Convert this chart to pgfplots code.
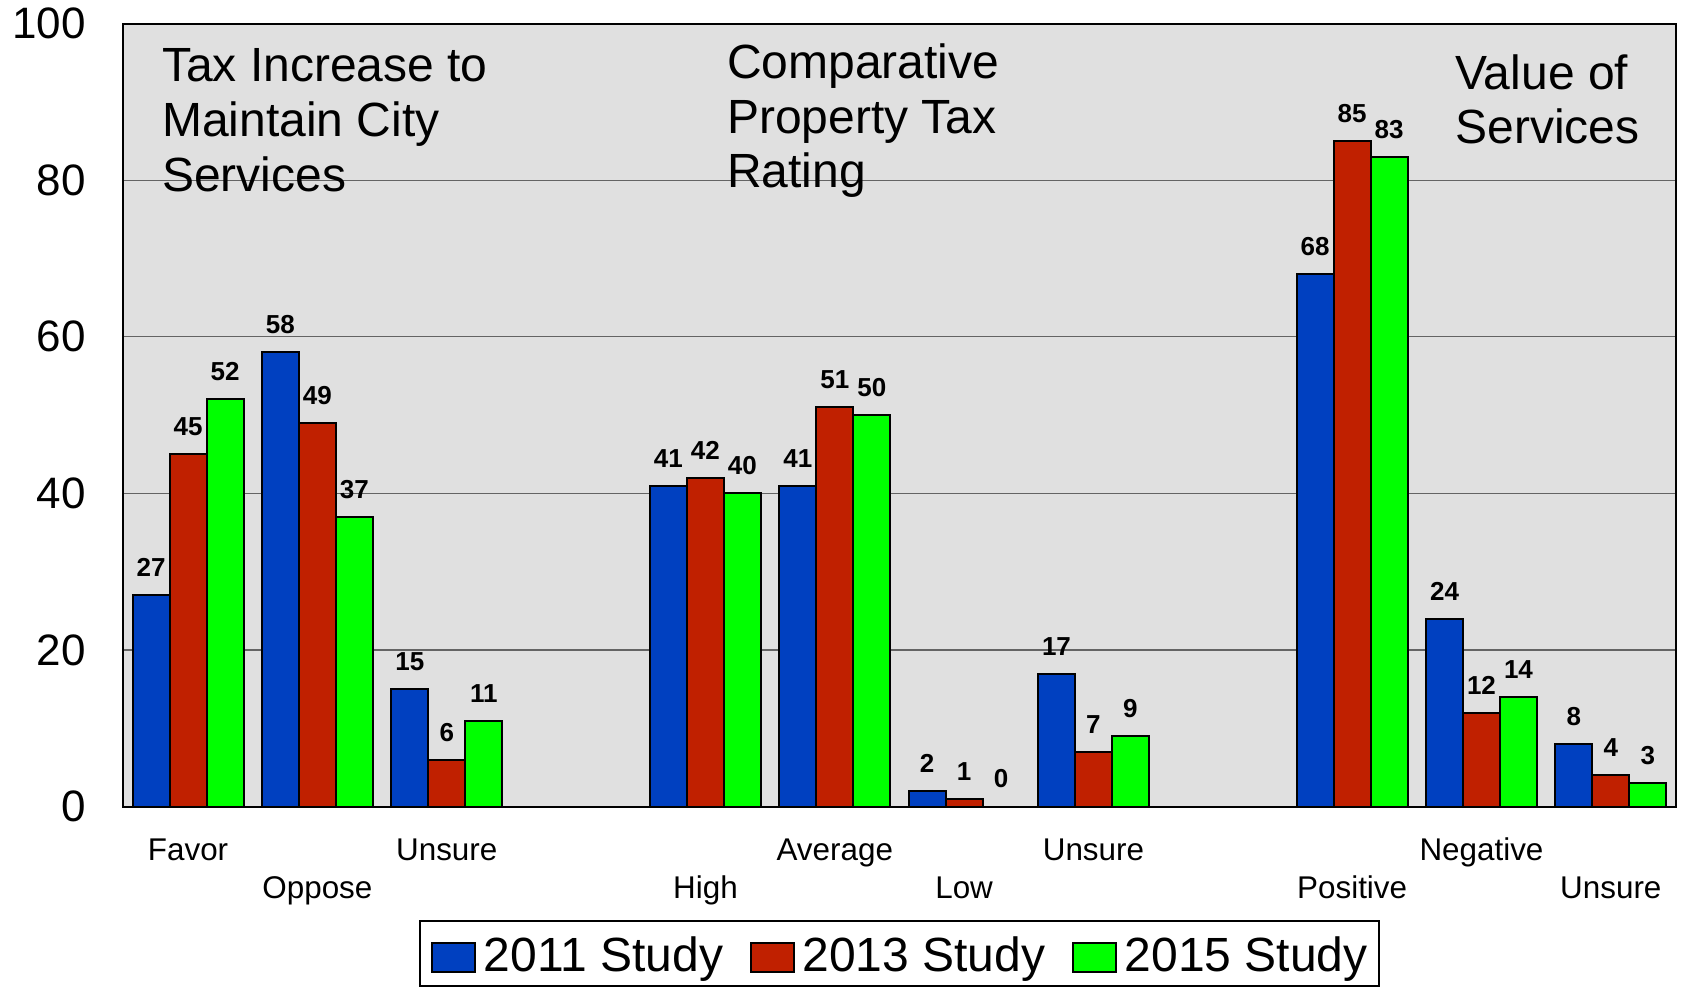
\documentclass[border=0pt]{standalone}
\usepackage{pgfplots}
\pgfplotsset{compat=1.18}
\usepackage{fontspec}
\setmainfont{Liberation Sans}
\definecolor{cblue}{RGB}{0,64,192}
\definecolor{cred}{RGB}{192,32,0}
\definecolor{cgreen}{RGB}{0,255,0}
\definecolor{bggray}{RGB}{224,224,224}
\definecolor{gridgray}{RGB}{100,100,100}
\begin{document}
\begin{tikzpicture}
\begin{axis}[
 name=ax,
 width=776pt, height=391.5pt, scale only axis,
 xmin=-0.5, xmax=11.5, ymin=0, ymax=100,
 ybar=0pt, bar width=0.286,
 axis background/.style={fill=bggray},
 axis line style={line width=1pt, black},
 xtick={0,1,2,4,5,6,7,9,10,11},
 xticklabels={Favor,\raisebox{-18.7pt}{Oppose},Unsure,\raisebox{-18.7pt}{High},Average,\raisebox{-18.7pt}{Low},Unsure,\raisebox{-18.7pt}{Positive},Negative,\raisebox{-18.7pt}{Unsure}},
 ytick={0,20,40,60,80,100},
 major tick length=0pt,
 ymajorgrids, grid style={line width=0.6pt, color=gridgray},
 /pgf/number format/assume math mode=true,
 yticklabel style={font=\fontsize{22}{26}\selectfont, anchor=east, inner sep=0pt, xshift=-18.7pt},
 xticklabel style={font=\fontsize{15.7}{19}\selectfont, anchor=base, inner sep=0pt, yshift=-27.15pt},
 nodes near coords,
 nodes near coords style={font=\fontsize{13}{15}\selectfont\bfseries, inner sep=0pt, yshift=8.7pt, anchor=south},
 legend style={at={(0.5,0)}, anchor=north, yshift=-56.65pt, legend columns=-1, draw=black, line width=1pt, fill=white,
   font=\fontsize{24}{28}\selectfont, inner xsep=5.9pt, inner ysep=2pt,
   nodes={inner sep=0pt, text height=23.5pt, text depth=5pt},
   /tikz/every odd column/.append style={column sep=3.75pt},
   /tikz/every even column/.append style={column sep=13.4pt}},
 every axis plot post/.append style={legend image code/.code={\draw[#1, draw=black, line width=1pt] (0pt,-9.25pt) rectangle (21.5pt,5.25pt);}},
]
\addplot[fill=cblue, draw=black, line width=1pt] coordinates {(0,27) (1,58) (2,15) (4,41) (5,41) (6,2) (7,17) (9,68) (10,24) (11,8)};
\addplot[fill=cred, draw=black, line width=1pt] coordinates {(0,45) (1,49) (2,6) (4,42) (5,51) (6,1) (7,7) (9,85) (10,12) (11,4)};
\addplot[fill=cgreen, draw=black, line width=1pt] coordinates {(0,52) (1,37) (2,11) (4,40) (5,50) (6,0) (7,9) (9,83) (10,14) (11,3)};
\legend{2011 Study, 2013 Study, 2015 Study}
\node[anchor=base west, inner sep=0pt, font=\fontsize{24}{28}\selectfont] at (axis cs:-0.204,92.58) {Tax Increase to};
\node[anchor=base west, inner sep=0pt, font=\fontsize{24}{28}\selectfont] at (axis cs:-0.204,85.56) {Maintain City};
\node[anchor=base west, inner sep=0pt, font=\fontsize{24}{28}\selectfont] at (axis cs:-0.204,78.53) {Services};
\node[anchor=base west, inner sep=0pt, font=\fontsize{24}{28}\selectfont] at (axis cs:4.165,93.02) {Comparative};
\node[anchor=base west, inner sep=0pt, font=\fontsize{24}{28}\selectfont] at (axis cs:4.165,86.0) {Property Tax};
\node[anchor=base west, inner sep=0pt, font=\fontsize{24}{28}\selectfont] at (axis cs:4.165,79.1) {Rating};
\node[anchor=base west, inner sep=0pt, font=\fontsize{24}{28}\selectfont] at (axis cs:9.796,91.61) {Value of};
\node[anchor=base west, inner sep=0pt, font=\fontsize{24}{28}\selectfont] at (axis cs:9.796,84.63) {Services};
\end{axis}
\pgfresetboundingbox
\path ([shift={(-61.7pt,-90.15pt)}]ax.south west) rectangle ([shift={(3.25pt,11.8pt)}]ax.north east);
\end{tikzpicture}
\end{document}
